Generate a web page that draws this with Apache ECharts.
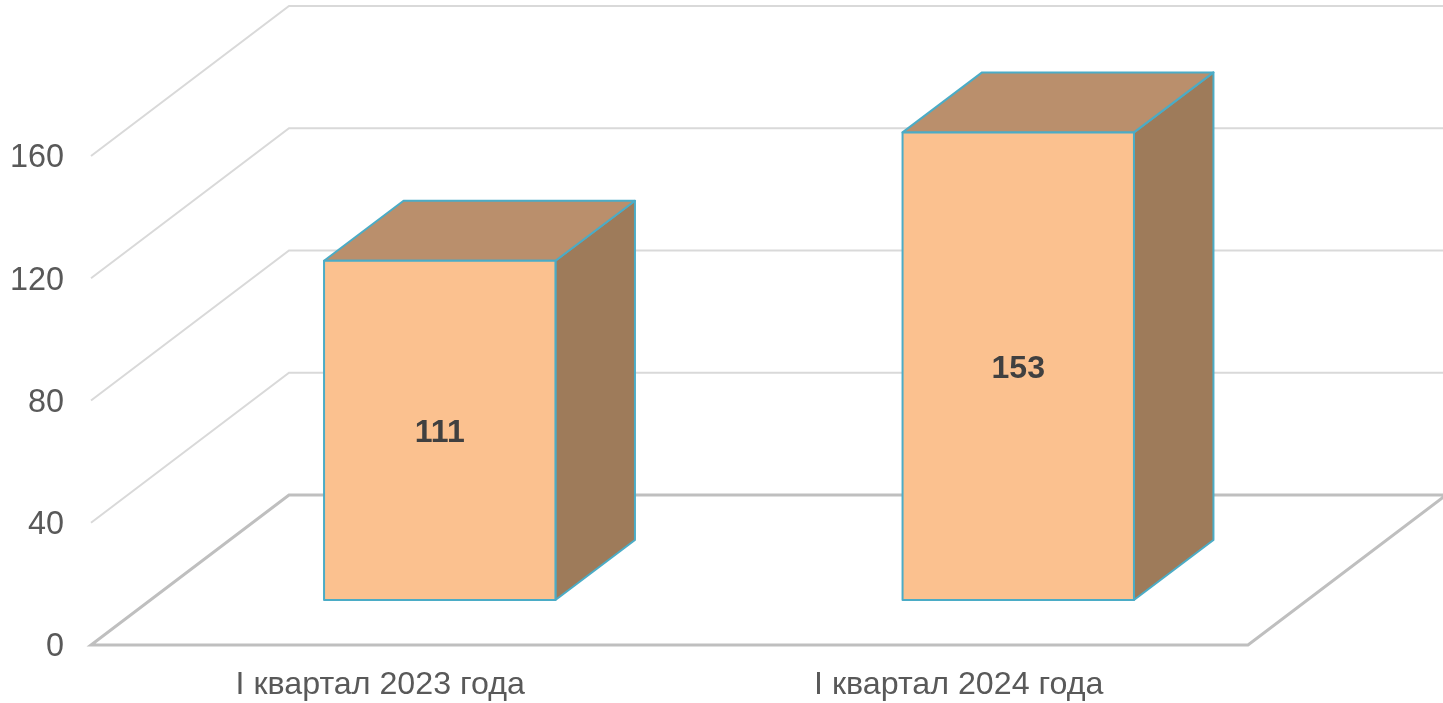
<!DOCTYPE html>
<html><head><meta charset="utf-8">
<style>html,body{margin:0;padding:0;background:#fff}#c{width:1443px;height:703px}</style>
<script src="https://cdn.jsdelivr.net/npm/echarts@6/dist/echarts.min.js"></script>
</head><body><div id="c"></div>
<script>
const categories = ['I квартал 2023 года', 'I квартал 2024 года'];
const values = [111, 153];
const gridTicks = [40, 80, 120, 160];
const wallDx = 198, wallDy = -150;
const barOffX = 59.5, barOffY = -45, barDx = 79.5, barDy = -60, barWidthRatio = 0.4;
const font = '"Liberation Sans", Arial, sans-serif';
const chart = echarts.init(document.getElementById('c'), null, {renderer:'canvas'});
function bandLeft(api){ const p = api.coord([0, 0]); return p[0] - api.size([1,0])[0]/2; }
chart.setOption({
  animation:false,
  backgroundColor:'#fff',
  grid:{left:91, top:156, width:1157, height:489, outerBoundsMode:'none', containLabel:false},
  xAxis:{type:'category', data:categories, axisLine:{show:false}, axisTick:{show:false}, splitLine:{show:false},
    axisLabel:{color:'#595959', fontFamily:font, fontSize:32.2, margin:24}},
  yAxis:{type:'value', min:0, max:160, interval:40, axisLine:{show:false}, axisTick:{show:false}, splitLine:{show:false},
    axisLabel:{margin:27, formatter:(v)=>'{a|'+v+'}',
      rich:{a:{color:'#595959', fontFamily:font, fontSize:32.4, lineHeight:38, padding:[5,0,0,0]}}}},
  series:[
    {type:'custom', z:1, silent:true, data:gridTicks.map(v=>[0,v]), encode:{x:0,y:1},
     renderItem(params, api){
       const y = api.coord([0, api.value(1)])[1], x0 = bandLeft(api), w = api.size([1,0])[0]*2;
       return {type:'polyline', shape:{points:[[x0,y],[x0+wallDx,y+wallDy],[x0+w+wallDx,y+wallDy]]},
         style:{stroke:'#d9d9d9', lineWidth:2, fill:null}};
     }},
    {type:'custom', z:2, silent:true, data:[[0,0]], encode:{x:0,y:1},
     renderItem(params, api){
       const y = api.coord([0,0])[1], x0 = bandLeft(api), w = api.size([1,0])[0]*2;
       return {type:'polygon', shape:{points:[[x0,y],[x0+w,y],[x0+w+wallDx,y+wallDy],[x0+wallDx,y+wallDy]]},
         style:{stroke:'#bfbfbf', lineWidth:3, fill:'#fff', lineJoin:'miter'}};
     }},
    {type:'custom', z:3, silent:true, data:values.map((v,i)=>[i,v]), encode:{x:0,y:1},
     renderItem(params, api){
       const i = api.value(0), v = api.value(1);
       const band = api.size([1,0])[0], w = band*barWidthRatio;
       const c0 = api.coord([i,0]), c1 = api.coord([i,v]);
       const l = c0[0]+barOffX-w/2, r = l+w, b = c0[1]+barOffY, t = c1[1]+barOffY;
       const st = (fill)=>({fill, stroke:'#4bacc6', lineWidth:2, lineJoin:'round'});
       return {type:'group', children:[
         {type:'polygon', shape:{points:[[r,t],[r+barDx,t+barDy],[r+barDx,b+barDy],[r,b]]}, style:st('#9e7b5a')},
         {type:'polygon', shape:{points:[[l,t],[l+barDx,t+barDy],[r+barDx,t+barDy],[r,t]]}, style:st('#ba8f6c')},
         {type:'rect', shape:{x:l,y:t,width:w,height:b-t}, style:st('#fbc18f')},
         {type:'text', x:(l+r)/2, y:(t+b)/2+3, style:{text:String(v), fill:'#404040', font:'bold 32px '+font, align:'center', verticalAlign:'middle'}}
       ]};
     }}
  ]
});
</script></body></html>
